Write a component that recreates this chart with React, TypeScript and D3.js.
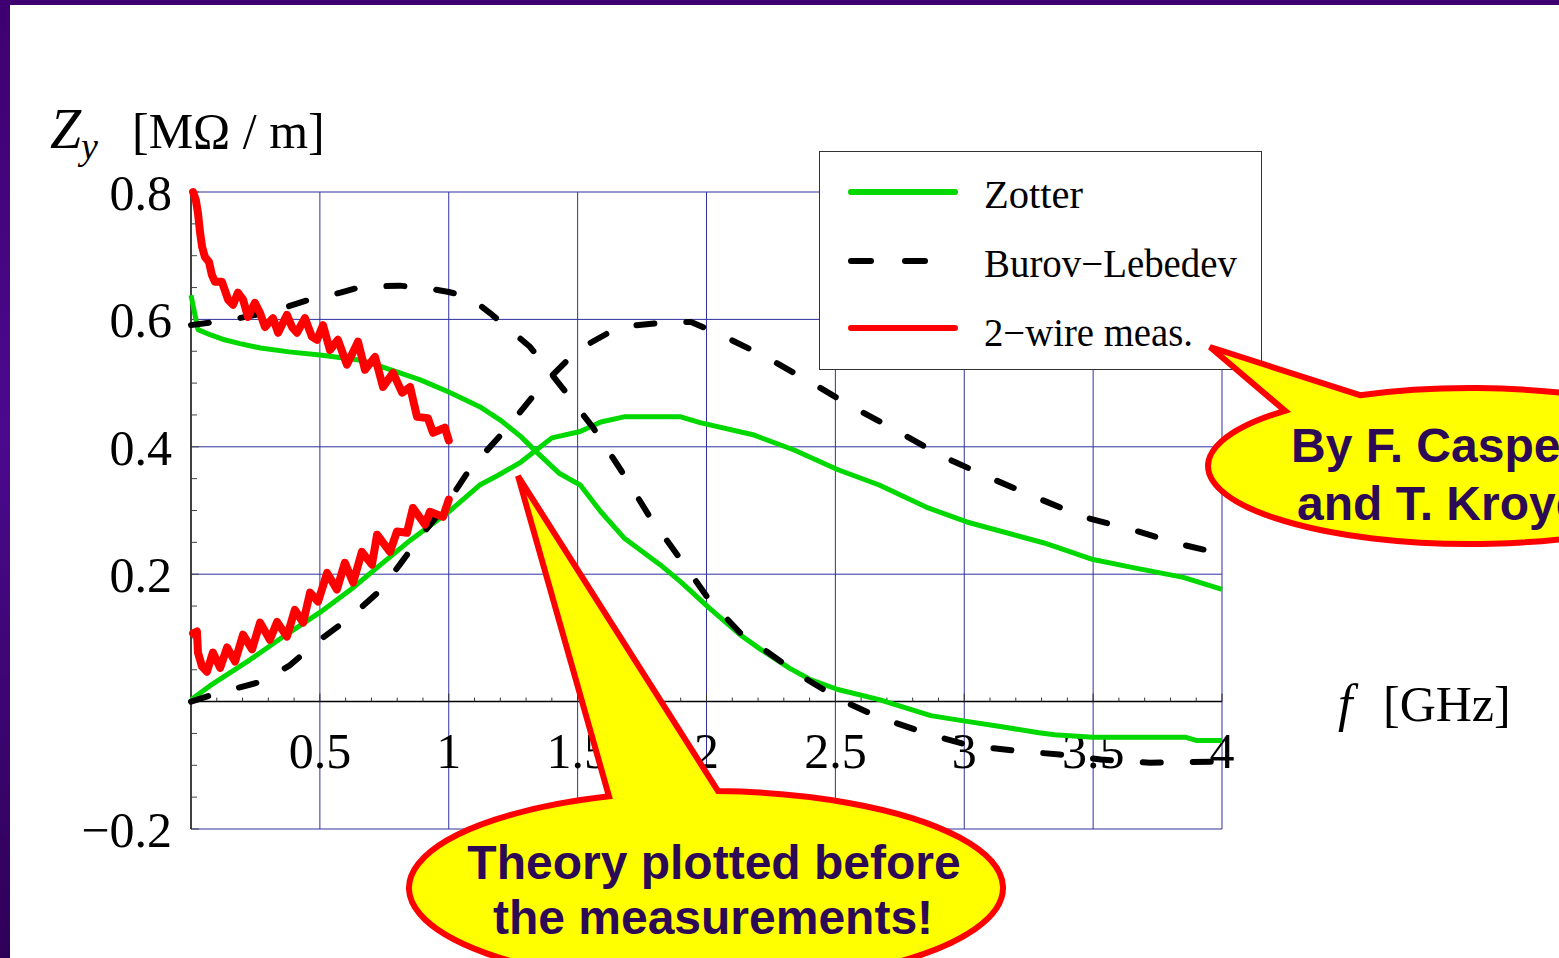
import React from "react";
import * as d3 from "d3";

const W = 1559;
const H = 958;

// Zotter model, two branches: [f (GHz), Z_y (MΩ/m)]
const zotterRe: [number, number][] = [
  [0, 0.638], [0.027, 0.584], [0.074, 0.576], [0.13, 0.568], [0.19, 0.562],
  [0.27, 0.555], [0.38, 0.549], [0.5, 0.544], [0.66, 0.536], [0.73, 0.527],
  [0.89, 0.505], [1.0, 0.486], [1.12, 0.463], [1.2, 0.442], [1.28, 0.416],
  [1.34, 0.392], [1.43, 0.358], [1.51, 0.34], [1.59, 0.298], [1.68, 0.257],
  [1.82, 0.215], [1.9, 0.188], [2.01, 0.147], [2.13, 0.105], [2.21, 0.082],
  [2.32, 0.053], [2.4, 0.035], [2.51, 0.019], [2.67, 0.003], [2.87, -0.022],
  [3.01, -0.031], [3.14, -0.039], [3.29, -0.049], [3.35, -0.052], [3.5, -0.056],
  [3.86, -0.056], [3.9, -0.061], [4.0, -0.061],
];
const zotterIm: [number, number][] = [
  [0, 0.003], [0.074, 0.025], [0.23, 0.066], [0.38, 0.108], [0.5, 0.14],
  [0.62, 0.176], [0.73, 0.213], [0.85, 0.253], [1.0, 0.298], [1.12, 0.34],
  [1.19, 0.355], [1.28, 0.376], [1.4, 0.414], [1.51, 0.424], [1.59, 0.439],
  [1.68, 0.447], [1.9, 0.447], [1.975, 0.438], [2.18, 0.419], [2.34, 0.395],
  [2.51, 0.364], [2.67, 0.34], [2.86, 0.304], [3.01, 0.282], [3.31, 0.249],
  [3.5, 0.223], [3.66, 0.21], [3.85, 0.195], [4.0, 0.176],
];

// Burov-Lebedev model, two branches
const burovRe: [number, number][] = [
  [0, 0.591], [0.15, 0.599], [0.31, 0.612], [0.46, 0.631], [0.58, 0.642],
  [0.66, 0.651], [0.81, 0.653], [0.93, 0.648], [1.0, 0.643], [1.08, 0.635],
  [1.16, 0.61], [1.315, 0.557], [1.44, 0.493], [1.56, 0.43], [1.67, 0.362],
  [1.78, 0.29], [1.9, 0.223], [2.01, 0.16], [2.13, 0.108], [2.25, 0.074],
  [2.36, 0.042], [2.52, 0.003], [2.67, -0.025], [2.87, -0.052], [3.02, -0.069],
  [3.22, -0.078], [3.37, -0.083], [3.53, -0.091], [3.72, -0.096], [4.0, -0.094],
];
const burovIm: [number, number][] = [
  [0, 0.0], [0.11, 0.014], [0.27, 0.031], [0.38, 0.056], [0.5, 0.097],
  [0.62, 0.133], [0.73, 0.173], [0.81, 0.215], [0.89, 0.259], [0.99, 0.309],
  [1.08, 0.364], [1.23, 0.431], [1.354, 0.493], [1.5, 0.552], [1.66, 0.588],
  [1.86, 0.596], [1.94, 0.596], [2.05, 0.577], [2.23, 0.541], [2.41, 0.5],
  [2.56, 0.464], [2.73, 0.427], [2.91, 0.386], [3.09, 0.353], [3.27, 0.322],
  [3.46, 0.29], [3.65, 0.27], [3.85, 0.246], [4.0, 0.232],
];

// Two-wire measurement, two branches up to 1 GHz
const wireRe: [number, number][] = [
  [0.008, 0.8], [0.019, 0.787], [0.027, 0.767], [0.035, 0.737], [0.043, 0.714],
  [0.054, 0.698], [0.07, 0.69], [0.081, 0.67], [0.093, 0.659], [0.12, 0.659],
  [0.144, 0.631], [0.163, 0.623], [0.182, 0.642], [0.202, 0.631], [0.221, 0.604],
  [0.248, 0.626], [0.268, 0.61], [0.287, 0.588], [0.318, 0.602], [0.338, 0.579],
  [0.372, 0.607], [0.392, 0.588], [0.411, 0.579], [0.442, 0.602], [0.469, 0.573],
  [0.489, 0.568], [0.512, 0.591], [0.539, 0.552], [0.57, 0.568], [0.605, 0.529],
  [0.648, 0.565], [0.675, 0.521], [0.714, 0.541], [0.745, 0.494], [0.784, 0.516],
  [0.819, 0.485], [0.85, 0.494], [0.877, 0.447], [0.919, 0.445], [0.939, 0.422],
  [0.985, 0.43], [1.0, 0.41],
];
const wireIm: [number, number][] = [
  [0.008, 0.107], [0.023, 0.11], [0.027, 0.077], [0.043, 0.055], [0.062, 0.047],
  [0.085, 0.077], [0.113, 0.053], [0.14, 0.085], [0.171, 0.063], [0.202, 0.105],
  [0.237, 0.082], [0.268, 0.124], [0.306, 0.097], [0.334, 0.125], [0.372, 0.102],
  [0.403, 0.144], [0.435, 0.124], [0.462, 0.171], [0.493, 0.157], [0.528, 0.202],
  [0.566, 0.176], [0.597, 0.218], [0.629, 0.187], [0.663, 0.235], [0.702, 0.215],
  [0.722, 0.262], [0.772, 0.235], [0.799, 0.267], [0.838, 0.265], [0.861, 0.304],
  [0.908, 0.278], [0.927, 0.298], [0.978, 0.29], [1.0, 0.317],
];

const xTickLabels = ["0.5", "1", "1.5", "2", "2.5", "3", "3.5", "4"];
const yTickValues = [0.8, 0.6, 0.4, 0.2, -0.2];
const legendLabels = ["Zotter", "Burov\u2212Lebedev", "2\u2212wire meas."];

const GREEN = "#00d800";
const RED = "#ff0000";
const GRID = "#30309e";
const SERIF = "'Liberation Serif', 'Times New Roman', serif";
const SANS = "'Liberation Sans', Arial, sans-serif";
const CALLOUT_TEXT = "#2d0a55";

const x = d3.scaleLinear().domain([0, 4]).range([191, 1222]);
const y = d3.scaleLinear().domain([-0.2, 0.8]).range([829, 192]);

const line = d3
  .line<[number, number]>()
  .x((d) => x(d[0]))
  .y((d) => y(d[1]));

// Speech-bubble outline: ellipse with a triangular pointer sharing one border
function bubblePath(
  cx: number, cy: number, rx: number, ry: number,
  baseLeftX: number, baseRightX: number, tip: [number, number]
) {
  const onTop = (bx: number) =>
    cy - ry * Math.sqrt(Math.max(0, 1 - ((bx - cx) / rx) ** 2));
  const l: [number, number] = [baseLeftX, onTop(baseLeftX)];
  const r: [number, number] = [baseRightX, onTop(baseRightX)];
  return `M${l[0]},${l[1]} L${tip[0]},${tip[1]} L${r[0]},${r[1]} A${rx},${ry} 0 1 1 ${l[0]},${l[1]} Z`;
}

export default function App() {
  const xMinor = d3.range(0, 4.0001, 0.1);
  const yMinor = d3.range(-0.2, 0.8001, 0.05);
  const xGrid = d3.range(0.5, 4.0001, 0.5);

  return (
    <svg
      width={W}
      height={H}
      style={{ position: "absolute", left: 0, top: 0, background: "#fff" }}
    >
      <defs>
        <linearGradient id="frameGrad" x1="0" y1="0" x2="0" y2="1">
          <stop offset="0" stopColor="#3e0070" />
          <stop offset="0.45" stopColor="#4a0a8e" />
          <stop offset="1" stopColor="#2f0058" />
        </linearGradient>
      </defs>
      <rect x={0} y={0} width={W} height={H} fill="#fff" />
      <rect x={0} y={0} width={W} height={5} fill="#3e0070" />
      <rect x={0} y={0} width={10} height={H} fill="url(#frameGrad)" />

      {/* grid */}
      <g stroke={GRID} strokeWidth={1} fill="none">
        {xGrid.map((v) => (
          <line key={"gx" + v} x1={x(v)} x2={x(v)} y1={y(0.8)} y2={y(-0.2)} />
        ))}
        {[0.8, 0.6, 0.4, 0.2, -0.2].map((v) => (
          <line key={"gy" + v} x1={x(0)} x2={x(4)} y1={y(v)} y2={y(v)} />
        ))}
      </g>

      {/* axes with inward ticks */}
      <g stroke="#000" fill="none">
        <line x1={x(0)} x2={x(0)} y1={y(0.8)} y2={y(-0.2)} strokeWidth={1.5} />
        <line x1={x(0)} x2={x(4)} y1={y(0)} y2={y(0)} strokeWidth={1.5} />
        {xMinor.map((v, i) => (
          <line
            key={"tx" + i}
            x1={x(v)} x2={x(v)}
            y1={y(0)} y2={y(0) - (i % 5 === 0 ? 8 : 4)}
            strokeWidth={1}
            stroke="#333"
          />
        ))}
        {yMinor.map((v, i) => (
          <line
            key={"ty" + i}
            x1={x(0)} x2={x(0) + (i % 4 === 0 ? 8 : 6)}
            y1={y(v)} y2={y(v)}
            strokeWidth={1}
            stroke="#444"
          />
        ))}
      </g>

      {/* tick labels */}
      <g fontFamily={SERIF} fontSize={50} fill="#000">
        {xTickLabels.map((t) => (
          <text key={"xl" + t} x={x(+t)} y={768} textAnchor="middle">
            {t}
          </text>
        ))}
        {yTickValues.map((v) => (
          <text key={"yl" + v} x={172} y={y(v) + 18} textAnchor="end">
            {(v < 0 ? "\u2212" : "") + Math.abs(v).toFixed(1)}
          </text>
        ))}
      </g>

      {/* axis titles */}
      <g fontFamily={SERIF} fill="#000">
        <text x={50} y={148} fontSize={56} fontStyle="italic">Z</text>
        <text x={81} y={159} fontSize={38} fontStyle="italic">y</text>
        <text x={132} y={148} fontSize={50}>[M&#937; / m]</text>
        <text x={1338} y={721} fontSize={52} fontStyle="italic">f</text>
        <text x={1383} y={721} fontSize={50}>[GHz]</text>
      </g>

      {/* curves */}
      <g fill="none" strokeLinejoin="round">
        <path d={line(zotterRe) ?? ""} stroke={GREEN} strokeWidth={5} />
        <path d={line(zotterIm) ?? ""} stroke={GREEN} strokeWidth={5} />
        <path d={line(burovRe) ?? ""} stroke="#000" strokeWidth={6}
          strokeDasharray="18 32" strokeLinecap="round" />
        <path d={line(burovIm) ?? ""} stroke="#000" strokeWidth={6}
          strokeDasharray="18 32" strokeLinecap="round" />
        <path d={line(wireRe) ?? ""} stroke={RED} strokeWidth={8} strokeLinecap="round" />
        <path d={line(wireIm) ?? ""} stroke={RED} strokeWidth={8} strokeLinecap="round" />
      </g>

      {/* legend */}
      <g>
        <rect x={819.5} y={151.5} width={442} height={218} fill="#fff" stroke="#333" strokeWidth={1} />
        <line x1={851} x2={955} y1={192} y2={192} stroke={GREEN} strokeWidth={6} strokeLinecap="round" />
        <line x1={851} x2={929} y1={261} y2={261} stroke="#000" strokeWidth={6}
          strokeLinecap="round" strokeDasharray="20 34" />
        <line x1={851} x2={955} y1={328} y2={328} stroke={RED} strokeWidth={6} strokeLinecap="round" />
        <g fontFamily={SERIF} fontSize={39} fill="#000">
          {legendLabels.map((t, i) => (
            <text key={t} x={984} y={208 + i * 69} textLength={[99, 253, 209][i]}
              lengthAdjust="spacingAndGlyphs">
              {t}
            </text>
          ))}
        </g>
      </g>

      {/* callouts */}
      <g>
        <path
          d={bubblePath(706, 888, 297, 97, 609, 718, [518, 476])}
          fill="#ffff00" stroke={RED} strokeWidth={6} strokeLinejoin="miter"
        />
        <g fontFamily={SANS} fontWeight="bold" fontSize={48} fill={CALLOUT_TEXT} textAnchor="middle">
          <text x={714} y={879}>Theory plotted before</text>
          <text x={713} y={934}>the measurements!</text>
        </g>
        <path
          d={bubblePath(1470, 466, 262, 78, 1285, 1360, [1210, 347])}
          fill="#ffff00" stroke={RED} strokeWidth={6} strokeLinejoin="miter"
        />
        <g fontFamily={SANS} fontWeight="bold" fontSize={48} fill={CALLOUT_TEXT}>
          <text x={1291} y={462}>By F. Caspers</text>
          <text x={1297} y={520}>and T. Kroyer</text>
        </g>
      </g>
    </svg>
  );
}
